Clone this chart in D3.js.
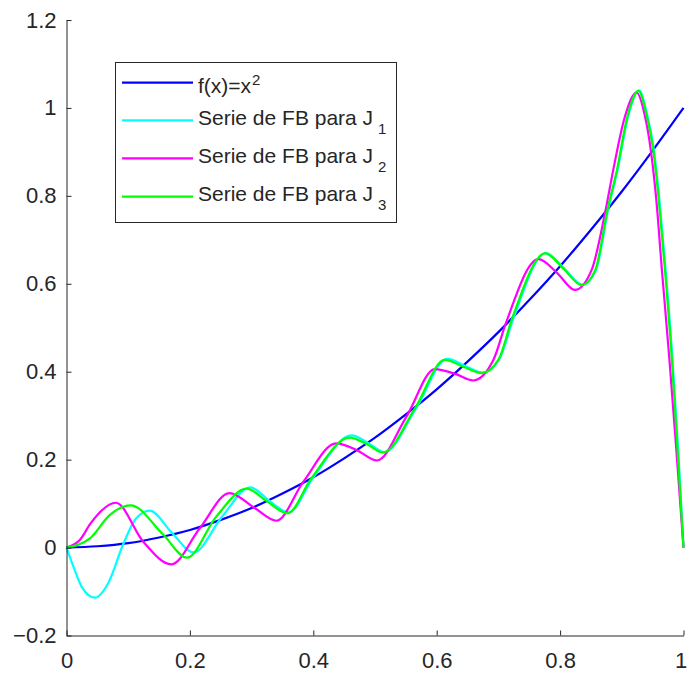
<!DOCTYPE html>
<html>
<head>
  <meta charset="utf-8" />
  <script src="https://cdn.jsdelivr.net/npm/d3@7"></script>
  <style>
    body { margin: 0; background: #fff; }
    svg text { font-family: "Liberation Sans", Arial, Helvetica, sans-serif; fill: #262626; }
    .axis path, .axis line { stroke: #262626; stroke-width: 1; }
    .curve { fill: none; stroke-width: 2.2; stroke-linejoin: round; }
  </style>
</head>
<body>
  <script>
    // - - - - - DATA - - - - - //
    var xTicks = [0, 0.2, 0.4, 0.6, 0.8, 1];
    var yTicks = [-0.2, 0, 0.2, 0.4, 0.6, 0.8, 1, 1.2];

    // f(x) = x^2
    var fX = [0, 0.05, 0.1, 0.15, 0.2, 0.25, 0.3, 0.35, 0.4, 0.45, 0.5, 0.55, 0.6, 0.65, 0.7, 0.75, 0.8, 0.85, 0.9, 0.95, 1];
    var fY = [0, 0.003, 0.01, 0.023, 0.04, 0.063, 0.09, 0.123, 0.16, 0.203, 0.25, 0.303, 0.36, 0.423, 0.49, 0.563, 0.64, 0.723, 0.81, 0.903, 1];

    // Serie de FB para J1
    var j1X = [0, 0.013, 0.025, 0.046, 0.068, 0.092, 0.112, 0.135, 0.17, 0.206, 0.252, 0.298, 0.33, 0.36, 0.40, 0.462, 0.49, 0.515, 0.567, 0.617, 0.648, 0.675, 0.702, 0.724, 0.777, 0.806, 0.836, 0.858, 0.878, 0.893, 0.91, 0.928, 0.941, 0.952, 0.961, 0.971, 0.982, 0.991, 1];
    var j1Y = [0, -0.05, -0.09, -0.114, -0.08, 0.008, 0.065, 0.084, 0.035, -0.011, 0.07, 0.137, 0.105, 0.080, 0.16, 0.255, 0.237, 0.217, 0.318, 0.429, 0.412, 0.398, 0.43, 0.52, 0.670, 0.636, 0.598, 0.631, 0.77, 0.858, 0.98, 1.04, 0.985, 0.904, 0.79, 0.631, 0.431, 0.23, 0];

    // Serie de FB para J2
    var j2X = [0, 0.022, 0.039, 0.080, 0.124, 0.170, 0.216, 0.264, 0.305, 0.340, 0.384, 0.437, 0.470, 0.503, 0.551, 0.597, 0.630, 0.659, 0.692, 0.712, 0.765, 0.795, 0.824, 0.851, 0.873, 0.886, 0.905, 0.924, 0.937, 0.947, 0.956, 0.965, 0.977, 0.988, 1];
    var j2Y = [0, 0.018, 0.055, 0.102, 0.014, -0.038, 0.044, 0.124, 0.090, 0.061, 0.150, 0.237, 0.222, 0.198, 0.298, 0.406, 0.395, 0.380, 0.427, 0.510, 0.656, 0.625, 0.586, 0.631, 0.762, 0.858, 0.98, 1.035, 0.985, 0.904, 0.79, 0.631, 0.431, 0.23, 0];

    // Serie de FB para J3
    var j3X = [0, 0.038, 0.070, 0.104, 0.157, 0.195, 0.243, 0.292, 0.325, 0.358, 0.397, 0.459, 0.487, 0.513, 0.565, 0.613, 0.645, 0.673, 0.700, 0.722, 0.776, 0.805, 0.835, 0.857, 0.877, 0.892, 0.909, 0.927, 0.940, 0.951, 0.960, 0.970, 0.981, 0.990, 1];
    var j3Y = [0, 0.021, 0.074, 0.096, 0.029, -0.023, 0.071, 0.134, 0.105, 0.078, 0.158, 0.250, 0.235, 0.216, 0.317, 0.427, 0.410, 0.397, 0.427, 0.520, 0.669, 0.635, 0.597, 0.631, 0.77, 0.858, 0.98, 1.039, 0.985, 0.904, 0.79, 0.631, 0.431, 0.23, 0];

    var series = [
      {name: "f(x)=x", sup: "2", sub: null, color: "#0000ff", xs: fX, ys: fY},
      {name: "Serie de FB para J", sup: null, sub: "1", color: "#00ffff", xs: j1X, ys: j1Y},
      {name: "Serie de FB para J", sup: null, sub: "2", color: "#ff00ff", xs: j2X, ys: j2Y},
      {name: "Serie de FB para J", sup: null, sub: "3", color: "#00ff00", xs: j3X, ys: j3Y}
    ];

    // - - - - - LAYOUT - - - - - //
    var W = 688, H = 680;
    var x = d3.scaleLinear().domain([0, 1]).range([66.5, 683.5]);
    var y = d3.scaleLinear().domain([-0.2, 1.2]).range([635.5, 20]);

    var svg = d3.select("body").append("svg")
        .attr("width", W)
        .attr("height", H);

    // curves
    var line = d3.line()
        .x(function(d) { return x(d[0]); })
        .y(function(d) { return y(d[1]); })
        .curve(d3.curveMonotoneX);

    svg.append("g").selectAll("path")
        .data(series)
      .enter().append("path")
        .attr("class", "curve")
        .attr("stroke", function(d) { return d.color; })
        .attr("d", function(d) {
          return line(d.xs.map(function(v, i) { return [v, d.ys[i]]; }));
        });

    // axes (MATLAB style: ticks inward, no box)
    var xAxis = d3.axisBottom(x)
        .tickValues(xTicks)
        .tickFormat(d3.format("~g"))
        .tickSizeInner(-5)
        .tickSizeOuter(0)
        .tickPadding(17);

    var yAxis = d3.axisLeft(y)
        .tickValues(yTicks)
        .tickFormat(d3.format("~g"))
        .tickSizeInner(-5)
        .tickSizeOuter(0)
        .tickPadding(10);

    svg.append("g")
        .attr("class", "axis")
        .attr("transform", "translate(0," + y(-0.2) + ")")
        .call(xAxis);

    svg.append("g")
        .attr("class", "axis")
        .attr("transform", "translate(" + x(0) + ",0)")
        .call(yAxis);

    svg.selectAll(".axis text")
        .attr("font-family", null)
        .style("font-size", "22px")
        .attr("fill", "#262626");

    // keep the last x label inside the window
    svg.selectAll(".axis text")
        .filter(function(d) { return d === 1 && this.getAttribute("dy") === "0.71em"; })
        .attr("dx", -3);

    // - - - - - LEGEND - - - - - //
    var leg = svg.append("g").attr("class", "legend");
    leg.append("rect")
        .attr("x", 115.5).attr("y", 62.5)
        .attr("width", 281).attr("height", 160)
        .attr("fill", "#fff")
        .attr("stroke", "#262626")
        .attr("stroke-width", 1);

    var rowY = [82.7, 120.3, 158.3, 196.7];
    var textDy = [10, 4.5, 4.5, 4.5];

    var row = leg.selectAll(".row")
        .data(series)
      .enter().append("g")
        .attr("class", "row")
        .attr("transform", function(d, i) { return "translate(0," + rowY[i] + ")"; });

    row.append("line")
        .attr("x1", 122).attr("x2", 193)
        .attr("y1", 0).attr("y2", 0)
        .attr("stroke", function(d) { return d.color; })
        .attr("stroke-width", 2.2);

    var txt = row.append("text")
        .attr("x", 198)
        .attr("y", function(d, i) { return textDy[i]; })
        .style("font-size", "21px");

    txt.append("tspan").text(function(d) { return d.name; });
    txt.filter(function(d) { return d.sup; })
      .append("tspan")
        .attr("dy", -8)
        .attr("dx", 1)
        .style("font-size", "15px")
        .text(function(d) { return d.sup; });
    txt.filter(function(d) { return d.sub; })
      .append("tspan")
        .attr("dy", 9)
        .attr("dx", 5)
        .style("font-size", "15px")
        .text(function(d) { return d.sub; });
  </script>
</body>
</html>
